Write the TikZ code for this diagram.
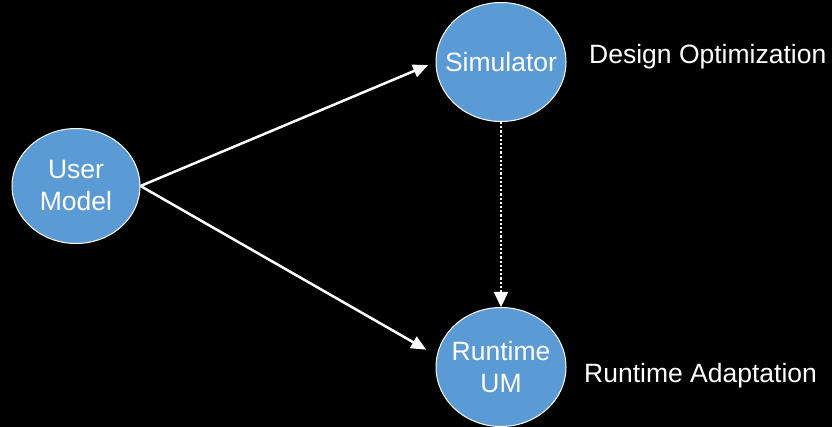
\documentclass[tikz,border=0pt]{standalone}
\usepackage{fontspec}
\setmainfont{Liberation Sans}
\usetikzlibrary{shapes.geometric,arrows.meta}
\definecolor{nodeblue}{HTML}{5B9BD5}
\begin{document}
\begin{tikzpicture}[x=1pt,y=-1pt,
  blob/.style={ellipse,draw=white,line width=1pt,fill=nodeblue,text=white,
    minimum width=130pt,minimum height=119pt,inner sep=-12pt,align=center,
    font=\fontsize{26.5}{32}\selectfont},
  conn/.style={draw=white,line width=2.5pt,-{Triangle[length=15pt,width=13pt]}},
  lbl/.style={text=white,inner sep=0pt,anchor=base west,font=\fontsize{26.5}{32}\selectfont}]
\fill[black] (0,0) rectangle (832,427);
\useasboundingbox (0,0) rectangle (832,427);
\node[blob,minimum width=128pt,minimum height=115pt] (um) at (76,186) {User\\Model};
\node[blob] (sim) at (501,62) {Simulator};
\node[blob] (rt) at (501,367) {Runtime\\UM};
\draw[conn,shorten >=8pt] (um.east) -- (sim.west);
\draw[conn,shorten >=12pt] (um.east) -- (rt.170);
\draw[draw=white,line width=2.2pt,dash pattern=on 2.2pt off 2pt,
  -{Triangle[length=15pt,width=14pt]}] (sim.south) -- (rt.north);
\node[lbl] (d) at (589,64) {Design Optimization};
\node[lbl] (r) at (584,382) {Runtime Adaptation};
\end{tikzpicture}
\end{document}
